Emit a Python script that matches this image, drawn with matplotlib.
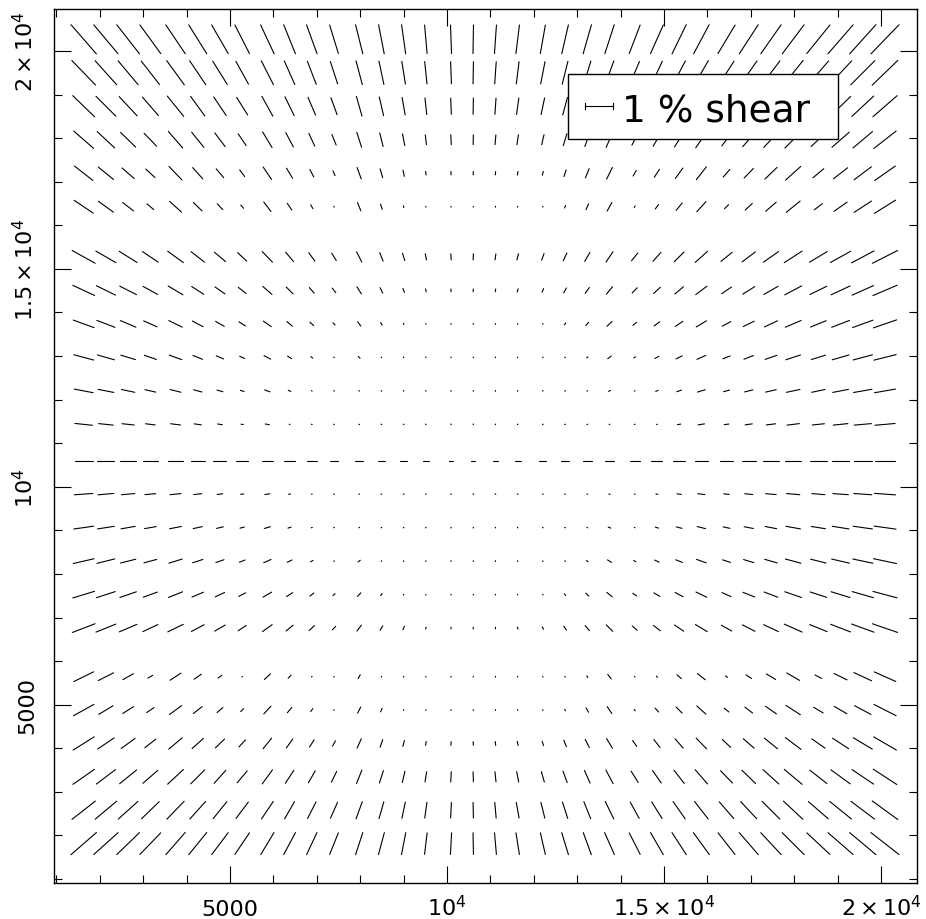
import numpy as np
import matplotlib
matplotlib.use("Agg")
import matplotlib.pyplot as plt
from matplotlib.collections import LineCollection
from matplotlib.ticker import FixedLocator, MultipleLocator, FuncFormatter

plt.rcParams["mathtext.default"] = "regular"
plt.rcParams["font.family"] = ["DejaVu Sans"]

# ---------------- data ----------------
# whisker grid: 9 x 4 CCD mosaic, 4 bins per chip in x, 6 bins per chip in y
col_x = [1629, 2141, 2653, 3165, 3745, 4257, 4769, 5281, 5861, 6373, 6885, 7397,
         7977, 8489, 9001, 9513, 10093, 10605, 11117, 11629, 12209, 12721, 13233, 13745,
         14325, 14837, 15349, 15861, 16441, 16953, 17465, 17977, 18557, 19069, 19581, 20093]
row_y = [20268, 19500, 18732, 17963, 17194, 16426,
         15275, 14506, 13738, 12969, 12200, 11432,
         10600, 9831, 9063, 8294, 7525, 6757,
         5642, 4876, 4110, 3344, 2578, 1812]

# shear amplitude in percent, one list per row (top row first), columns left to right
shear_pct = [
    [1.40,1.36,1.33,1.28,1.26,1.23,1.20,1.16,1.15,1.13,1.11,1.08,1.08,1.07,1.06,1.03,1.03,1.03,1.03,1.04,1.04,1.07,1.09,1.10,1.10,1.14,1.17,1.19,1.20,1.25,1.28,1.31,1.33,1.38,1.42,1.46],
    [1.23,1.17,1.12,1.07,1.08,1.04,0.99,0.94,0.97,0.93,0.89,0.85,0.89,0.86,0.83,0.81,0.80,0.80,0.80,0.81,0.82,0.85,0.88,0.92,0.88,0.92,0.97,1.01,0.99,1.04,1.08,1.14,1.12,1.18,1.23,1.29],
    [1.10,1.02,0.95,0.88,0.94,0.88,0.81,0.75,0.82,0.76,0.70,0.65,0.74,0.69,0.64,0.60,0.59,0.59,0.59,0.60,0.61,0.66,0.71,0.77,0.68,0.74,0.80,0.87,0.79,0.86,0.93,1.00,0.93,1.01,1.08,1.16],
    [0.95,0.86,0.76,0.65,0.79,0.70,0.62,0.51,0.66,0.58,0.50,0.41,0.57,0.50,0.43,0.35,0.35,0.35,0.35,0.36,0.37,0.45,0.52,0.60,0.44,0.54,0.62,0.71,0.56,0.67,0.76,0.85,0.71,0.83,0.92,1.02],
    [0.84,0.71,0.58,0.45,0.68,0.55,0.42,0.30,0.54,0.42,0.30,0.19,0.44,0.33,0.23,0.13,0.12,0.12,0.12,0.13,0.14,0.25,0.36,0.47,0.23,0.34,0.46,0.59,0.36,0.48,0.61,0.74,0.51,0.65,0.78,0.91],
    [0.83,0.67,0.50,0.32,0.58,0.44,0.29,0.15,0.43,0.29,0.16,0.03,0.32,0.20,0.07,0.03,0.03,0.03,0.03,0.03,0.03,0.10,0.23,0.36,0.06,0.20,0.34,0.49,0.21,0.35,0.50,0.65,0.37,0.58,0.75,0.90],
    [0.95,0.84,0.76,0.68,0.70,0.61,0.53,0.45,0.53,0.44,0.37,0.31,0.41,0.33,0.28,0.23,0.22,0.22,0.22,0.23,0.25,0.31,0.37,0.45,0.36,0.43,0.50,0.60,0.52,0.60,0.67,0.77,0.75,0.84,0.92,1.02],
    [0.87,0.77,0.68,0.60,0.62,0.52,0.44,0.36,0.44,0.35,0.27,0.21,0.30,0.22,0.16,0.11,0.10,0.10,0.10,0.12,0.14,0.20,0.26,0.35,0.26,0.33,0.41,0.51,0.43,0.51,0.59,0.69,0.68,0.76,0.85,0.95],
    [0.80,0.70,0.61,0.53,0.54,0.44,0.36,0.28,0.35,0.26,0.18,0.11,0.19,0.11,0.05,0.03,0.03,0.03,0.03,0.03,0.03,0.09,0.16,0.25,0.17,0.25,0.33,0.43,0.35,0.44,0.52,0.62,0.61,0.69,0.78,0.89],
    [0.74,0.64,0.55,0.46,0.48,0.37,0.29,0.20,0.27,0.17,0.09,0.03,0.09,0.03,0.03,0.03,0.03,0.03,0.03,0.03,0.03,0.03,0.06,0.16,0.08,0.16,0.25,0.35,0.28,0.37,0.45,0.56,0.54,0.63,0.72,0.83],
    [0.69,0.58,0.49,0.40,0.41,0.31,0.22,0.14,0.20,0.10,0.03,0.03,0.03,0.03,0.03,0.03,0.03,0.03,0.03,0.03,0.03,0.03,0.03,0.08,0.03,0.09,0.18,0.29,0.22,0.31,0.39,0.50,0.49,0.58,0.67,0.77],
    [0.64,0.53,0.44,0.35,0.36,0.26,0.17,0.08,0.15,0.03,0.03,0.03,0.03,0.03,0.03,0.03,0.03,0.03,0.03,0.03,0.03,0.03,0.03,0.03,0.03,0.03,0.12,0.23,0.17,0.26,0.34,0.45,0.44,0.53,0.62,0.73],
    [0.65,0.62,0.59,0.56,0.53,0.50,0.47,0.44,0.41,0.38,0.35,0.32,0.29,0.26,0.23,0.20,0.16,0.15,0.18,0.21,0.25,0.28,0.31,0.34,0.37,0.40,0.43,0.46,0.49,0.52,0.55,0.58,0.61,0.64,0.67,0.70],
    [0.67,0.57,0.48,0.39,0.40,0.29,0.20,0.11,0.18,0.07,0.03,0.03,0.03,0.03,0.03,0.03,0.03,0.03,0.03,0.03,0.03,0.03,0.03,0.05,0.03,0.07,0.16,0.26,0.20,0.29,0.38,0.48,0.47,0.56,0.65,0.76],
    [0.72,0.61,0.52,0.43,0.44,0.34,0.25,0.16,0.23,0.12,0.04,0.03,0.03,0.03,0.03,0.03,0.03,0.03,0.03,0.03,0.03,0.03,0.03,0.10,0.03,0.12,0.21,0.31,0.25,0.34,0.42,0.53,0.52,0.61,0.70,0.80],
    [0.77,0.66,0.57,0.48,0.50,0.39,0.31,0.22,0.29,0.19,0.10,0.03,0.10,0.03,0.03,0.03,0.03,0.03,0.03,0.03,0.03,0.03,0.07,0.17,0.09,0.18,0.26,0.37,0.30,0.39,0.47,0.58,0.57,0.66,0.74,0.85],
    [0.82,0.71,0.63,0.54,0.55,0.45,0.37,0.28,0.36,0.26,0.18,0.10,0.18,0.09,0.03,0.03,0.03,0.03,0.03,0.03,0.03,0.08,0.15,0.25,0.17,0.25,0.33,0.43,0.36,0.45,0.53,0.64,0.62,0.71,0.80,0.90],
    [0.88,0.77,0.69,0.60,0.62,0.52,0.44,0.35,0.43,0.33,0.26,0.18,0.27,0.19,0.13,0.07,0.06,0.06,0.06,0.08,0.10,0.17,0.24,0.33,0.24,0.32,0.40,0.50,0.43,0.51,0.59,0.70,0.68,0.77,0.86,0.96],
    [0.80,0.62,0.44,0.20,0.47,0.32,0.17,0.03,0.30,0.15,0.03,0.03,0.16,0.03,0.03,0.03,0.03,0.03,0.03,0.03,0.03,0.03,0.07,0.21,0.03,0.06,0.21,0.36,0.09,0.24,0.39,0.54,0.27,0.52,0.70,0.85],
    [0.84,0.60,0.46,0.32,0.55,0.41,0.28,0.15,0.38,0.25,0.13,0.03,0.25,0.14,0.03,0.03,0.03,0.03,0.03,0.03,0.03,0.06,0.18,0.30,0.06,0.19,0.31,0.44,0.22,0.35,0.48,0.62,0.40,0.53,0.67,0.90],
    [0.90,0.72,0.62,0.51,0.64,0.55,0.46,0.35,0.49,0.40,0.31,0.22,0.37,0.29,0.22,0.14,0.13,0.13,0.14,0.15,0.16,0.25,0.33,0.41,0.26,0.36,0.45,0.54,0.41,0.52,0.61,0.71,0.58,0.70,0.80,0.95],
    [0.95,0.87,0.79,0.71,0.78,0.71,0.63,0.56,0.63,0.56,0.50,0.44,0.52,0.47,0.42,0.37,0.37,0.36,0.37,0.38,0.39,0.44,0.50,0.56,0.48,0.55,0.61,0.68,0.62,0.69,0.77,0.84,0.78,0.86,0.94,1.02],
    [1.07,1.01,0.95,0.89,0.90,0.85,0.79,0.74,0.76,0.72,0.67,0.63,0.66,0.63,0.60,0.57,0.56,0.56,0.57,0.57,0.59,0.62,0.66,0.70,0.67,0.71,0.76,0.81,0.80,0.85,0.91,0.96,0.95,1.01,1.07,1.14],
    [1.22,1.18,1.14,1.08,1.06,1.03,0.99,0.94,0.93,0.90,0.88,0.84,0.84,0.82,0.81,0.78,0.78,0.78,0.78,0.79,0.80,0.83,0.85,0.87,0.87,0.92,0.95,0.98,0.99,1.05,1.08,1.12,1.14,1.20,1.24,1.29],
]

# whisker position angle in degrees (counter-clockwise from +x), same layout
angle_deg = [
    [-49,-50,-52,-54,-56,-58,-60,-63,-65,-68,-70,-73,-76,-79,-82,-85,-88,89,86,83,80,77,74,72,69,66,64,62,59,57,55,53,51,49,48,46],
    [-46,-48,-50,-52,-54,-56,-58,-61,-63,-66,-69,-72,-75,-78,-81,-84,-88,89,86,83,79,76,73,70,67,65,62,60,57,55,53,51,49,47,45,44],
    [-44,-45,-47,-49,-51,-54,-56,-58,-61,-64,-67,-70,-74,-77,-80,-84,-88,89,86,82,78,75,72,69,65,62,60,57,54,52,50,48,46,44,43,41],
    [-41,-43,-44,-46,-49,-51,-53,-56,-59,-62,-65,-68,-72,-76,-79,-83,-87,89,85,81,77,73,70,66,63,60,57,55,52,49,47,45,43,41,40,38],
    [-38,-39,-41,-43,-46,-48,-50,-53,-56,-59,-62,-66,-70,-74,-78,-82,-87,89,85,80,76,72,68,64,60,57,54,52,49,46,44,42,40,38,37,35],
    [-34,-36,-38,-40,-42,-44,-47,-49,-53,-56,-60,-63,-68,-72,-77,-81,-87,88,84,79,74,69,65,61,57,54,51,48,45,43,41,39,37,35,33,32],
    [-29,-30,-32,-34,-36,-38,-40,-43,-46,-50,-54,-58,-63,-68,-73,-79,-86,88,82,76,70,65,60,56,51,48,45,42,39,37,35,33,31,29,28,27],
    [-25,-26,-27,-29,-31,-33,-35,-38,-41,-45,-49,-53,-58,-64,-70,-77,-85,88,81,74,66,61,55,51,46,43,40,37,34,32,30,28,26,25,24,23],
    [-20,-21,-23,-24,-26,-28,-30,-32,-35,-39,-42,-47,-53,-59,-66,-74,-84,87,79,70,62,55,49,44,40,37,34,31,28,26,25,23,22,21,20,19],
    [-15,-16,-17,-19,-20,-22,-23,-25,-28,-31,-35,-39,-45,-51,-59,-69,-82,86,75,64,54,47,41,36,32,29,27,24,22,21,19,18,17,16,15,14],
    [-11,-11,-12,-13,-14,-15,-16,-18,-20,-22,-25,-28,-34,-40,-49,-61,-78,84,68,55,43,36,31,27,23,21,19,17,15,14,13,12,12,11,10,10],
    [-6,-6,-6,-7,-7,-8,-9,-9,-11,-12,-14,-16,-19,-24,-31,-43,-68,79,53,36,26,21,17,15,13,11,10,9,8,8,7,7,6,6,5,5],
    [0,0,0,0,0,0,0,0,0,0,0,0,0,0,0,0,0,0,0,0,0,0,0,0,0,0,0,0,0,0,0,0,0,0,0,0],
    [4,5,5,5,6,6,7,7,8,9,10,12,15,18,24,35,62,-75,-45,-29,-20,-16,-13,-11,-10,-9,-8,-7,-6,-6,-5,-5,-5,-4,-4,-4],
    [8,9,10,10,11,12,13,14,16,18,20,23,28,34,42,55,75,-83,-63,-48,-37,-30,-25,-22,-19,-17,-15,-14,-12,-11,-11,-10,-9,-9,-8,-8],
    [13,14,14,15,17,18,19,21,24,26,29,33,39,46,54,65,80,-85,-72,-60,-49,-41,-36,-31,-27,-25,-22,-20,-18,-17,-16,-15,-14,-13,-12,-12],
    [17,18,19,20,22,23,25,27,30,33,37,41,47,53,61,71,83,-86,-76,-66,-56,-49,-44,-39,-35,-31,-28,-26,-24,-22,-21,-19,-18,-17,-16,-15],
    [21,22,23,25,26,28,30,33,36,39,43,47,53,59,66,74,84,-87,-79,-71,-62,-55,-50,-45,-41,-37,-34,-31,-29,-27,-25,-24,-22,-21,-20,-19],
    [26,27,29,30,33,35,37,40,43,46,50,54,60,65,71,78,85,-88,-81,-75,-68,-62,-57,-52,-48,-44,-41,-38,-35,-33,-31,-30,-28,-26,-25,-24],
    [29,31,32,34,36,38,41,44,47,50,54,58,63,68,74,79,86,-88,-82,-77,-70,-65,-60,-56,-52,-48,-45,-42,-39,-37,-35,-33,-31,-30,-28,-27],
    [32,34,36,38,40,42,44,47,51,54,58,61,66,71,75,81,86,-88,-83,-78,-72,-68,-63,-59,-55,-52,-49,-46,-43,-41,-39,-37,-35,-33,-31,-30],
    [35,37,39,41,43,45,48,50,54,57,60,64,68,72,77,81,87,-88,-84,-79,-74,-70,-66,-62,-58,-55,-52,-49,-46,-44,-42,-40,-38,-36,-34,-33],
    [38,40,42,44,46,48,51,53,56,60,63,66,70,74,78,82,87,-89,-85,-80,-76,-72,-68,-64,-61,-58,-55,-52,-49,-47,-45,-43,-41,-39,-37,-36],
    [41,42,44,46,49,51,53,56,59,62,65,68,72,75,79,83,87,-89,-85,-81,-77,-73,-70,-66,-63,-60,-57,-54,-52,-49,-47,-45,-43,-41,-40,-38],
]

LEGEND_SHEAR = 1.0      # percent shown by the legend bar
LEGEND_TEXT = "1 % shear"

# ---------------- figure ----------------
XLIM = (945, 20830)
YLIM = (908, 20963)
AX_W_PX, AX_H_PX = 863, 874
PX_PER_PCT = 27.7       # length of 1 % shear on the page, in pixels

fig = plt.figure(figsize=(9.26, 9.20), dpi=100)
ax = fig.add_axes([54 / 926, 36 / 920, AX_W_PX / 926, AX_H_PX / 920])
ax.set_xlim(*XLIM)
ax.set_ylim(*YLIM)

ux = (XLIM[1] - XLIM[0]) / AX_W_PX   # data units per pixel in x
uy = (YLIM[1] - YLIM[0]) / AX_H_PX   # data units per pixel in y

amp = np.asarray(shear_pct)
ang = np.deg2rad(np.asarray(angle_deg))
X, Y = np.meshgrid(col_x, row_y)
half = 0.5 * amp * PX_PER_PCT
dx = half * np.cos(ang) * ux
dy = half * np.sin(ang) * uy
segs = np.stack([np.stack([X - dx, Y - dy], -1), np.stack([X + dx, Y + dy], -1)], -2)
segs = segs.reshape(-1, 2, 2)
lc = LineCollection(segs, colors="black", linewidths=0.8, capstyle="round", zorder=2)
ax.add_collection(lc)

# legend box (opaque)
ax.add_patch(plt.Rectangle(((568 - 54) / AX_W_PX, (884 - 140) / AX_H_PX),
                           270 / AX_W_PX, 65 / AX_H_PX, transform=ax.transAxes,
                           facecolor="white", edgecolor="black", lw=1.0, zorder=3))
bar_len = LEGEND_SHEAR * PX_PER_PCT * ux
bx0 = XLIM[0] + (585 - 54) * ux
by = YLIM[1] - (107 - 10) * uy
cap = 3 * uy
for xs, ys in (([bx0, bx0 + bar_len], [by, by]),
               ([bx0, bx0], [by - cap, by + cap]),
               ([bx0 + bar_len, bx0 + bar_len], [by - cap, by + cap])):
    ax.plot(xs, ys, color="black", lw=0.8, zorder=4)
ax.text(bx0 + bar_len + 9 * ux, by, LEGEND_TEXT, fontsize=27,
        va="center_baseline", ha="left", zorder=4)

def fmt(v, pos):
    if v == 5000:
        return "5000"
    if v == 10000:
        return r"$10^{4}$"
    if v == 15000:
        return r"$1.5\times10^{4}$"
    if v == 20000:
        return r"$2\times10^{4}$"
    return ""

for axis in (ax.xaxis, ax.yaxis):
    axis.set_major_locator(FixedLocator([5000, 10000, 15000, 20000]))
    axis.set_minor_locator(MultipleLocator(1000))
    axis.set_major_formatter(FuncFormatter(fmt))
ax.tick_params(which="both", direction="in", top=True, right=True, width=0.8)
ax.tick_params(which="major", length=12, labelsize=16)
ax.tick_params(which="minor", length=6)
ax.tick_params(axis="x", which="major", pad=23)
ax.tick_params(axis="y", which="major", pad=12)
for lab in ax.get_xticklabels():
    lab.set_va("baseline")
for lab in ax.get_yticklabels():
    lab.set_rotation(90)
    lab.set_va("center")
for s in ax.spines.values():
    s.set_linewidth(1.0)

fig.savefig("out.png", dpi=100)
